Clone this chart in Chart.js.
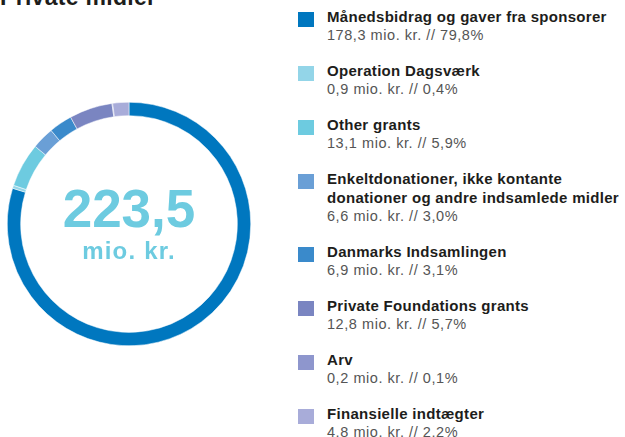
<!DOCTYPE html>
<html>
<head>
<meta charset="utf-8">
<script src="https://cdn.jsdelivr.net/npm/chart.js@4.4.0/dist/chart.umd.min.js"></script>
<style>
    body { margin: 0; width: 625px; height: 437px; overflow: hidden; background: #fff; font-family: "Liberation Sans", Arial, sans-serif; position: relative; }
    #title { position: absolute; left: 0; top: -16px; font-size: 23px; font-weight: bold; color: #1d1d1b; white-space: nowrap; letter-spacing: 0.3px; }
    #chartBox { position: absolute; left: 7px; top: 102px; width: 244px; height: 244px; }
    #centerText { position: absolute; left: 7px; top: 102px; width: 244px; height: 244px; display: flex; flex-direction: column; align-items: center; justify-content: center; color: #6dcbe0; font-weight: bold; pointer-events: none; }
    #centerText .big { font-size: 53px; line-height: 50px; letter-spacing: 0px; margin-top: -2px; }
    #centerText .small { font-size: 24px; line-height: 24px; margin-top: 5px; letter-spacing: 1.2px; }
    #legend { position: absolute; left: 298px; top: 7px; }
    .item { position: relative; padding-left: 29px; margin-bottom: 16px; font-size: 15px; line-height: 19px; }
    .item .sw { position: absolute; left: 0; top: 5px; width: 16px; height: 15px; }
    .item .lbl { font-weight: bold; color: #1d1d1b; letter-spacing: 0.3px; white-space: nowrap; }
    .item .val { color: #555; font-size: 14.5px; letter-spacing: 0.55px; }
</style>
</head>
<body>
<div id="title">Private midler</div>
<div id="chartBox"><canvas id="donut"></canvas></div>
<div id="centerText"><div class="big" id="totalBig"></div><div class="small">mio. kr.</div></div>
<div id="legend"></div>

<script>
// data
const labels = [
    'Månedsbidrag og gaver fra sponsorer',
    'Operation Dagsværk',
    'Other grants',
    'Enkeltdonationer, ikke kontante<br>donationer og andre indsamlede midler',
    'Danmarks Indsamlingen',
    'Private Foundations grants',
    'Arv',
    'Finansielle indtægter'
];
const amounts = [178.3, 0.9, 13.1, 6.6, 6.9, 12.8, 0.2, 4.8];
const percents = [79.8, 0.4, 5.9, 3.0, 3.1, 5.7, 0.1, 2.2];
const colors = ['#0077bf', '#93d5e8', '#6dcbe0', '#6a9fd6', '#3a8acb', '#7a85c1', '#8e96cd', '#a8acd9'];
const total = '223,5';

function da(n) {
    return n.toFixed(1).replace('.', ',');
}

document.getElementById('totalBig').textContent = total;

// legend built from the same arrays
const legend = document.getElementById('legend');
labels.forEach((l, i) => {
    const div = document.createElement('div');
    div.className = 'item';
    div.innerHTML = `<span class="sw" style="background:${colors[i]}"></span>
        <div class="lbl">${l}</div>
        <div class="val">${da(amounts[i])} mio. kr. // ${da(percents[i])}%</div>`;
    legend.appendChild(div);
});

const ctx = document.getElementById('donut').getContext('2d');
new Chart(ctx, {
    type: 'doughnut',
    data: {
        labels: labels.map(l => l.replace('<br>', ' ')),
        datasets: [{
            data: amounts,
            backgroundColor: colors,
            borderColor: '#ffffff',
            borderWidth: 0.5
        }]
    },
    options: {
        responsive: true,
        maintainAspectRatio: false,
        animation: false,
        cutout: '89%',
        layout: { padding: 0 },
        plugins: {
            legend: { display: false },
            tooltip: { enabled: false }
        }
    }
});
</script>
</body>
</html>
